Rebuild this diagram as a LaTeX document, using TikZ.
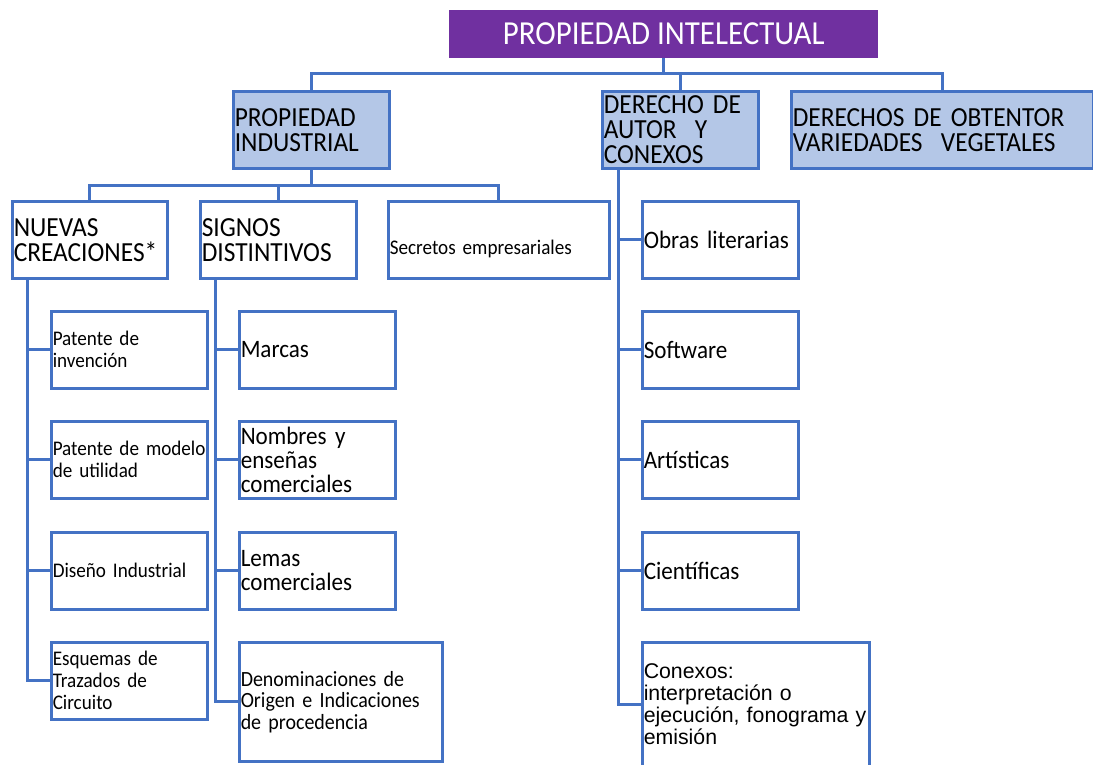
\documentclass[tikz,border=0pt]{standalone}
\usepackage{fontspec}
\setmainfont{Carlito}[FakeStretch=0.92]
\newfontfamily\arialfont{Liberation Sans}
\definecolor{boxblue}{HTML}{4472C4}
\definecolor{hdrfill}{HTML}{B4C7E7}
\definecolor{titlepurple}{HTML}{7030A0}
\newcommand{\txl}[1]{\mbox{#1}}
\begin{document}
\begin{tikzpicture}[x=1pt,y=-1pt,
  conn/.style={draw=boxblue,line width=3pt},
  base/.style={anchor=north west,draw=boxblue,line width=2.5pt,inner xsep=1.5pt,inner ysep=0pt,align=left},
  hdr/.style={base,fill=hdrfill,font=\fontsize{27.6}{25}\selectfont},
  hdrw/.style={base,fill=white,font=\fontsize{27.6}{25}\selectfont},
  small/.style={base,font=\fontsize{20.8}{22}\selectfont},
  mid/.style={base,font=\fontsize{25.1}{24}\selectfont},
  titlebox/.style={anchor=north west,fill=titlepurple,text=white,inner sep=0pt,font=\fontsize{33.6}{31}\selectfont}
]
\useasboundingbox (0,0) rectangle (1093,764);
\fill[white] (0,0) rectangle (1093,764);

% level 0
\node[titlebox,minimum width=429pt,minimum height=48pt] (title) at (449,10) {PROPIEDAD INTELECTUAL};

% level 1
\node[hdr,text width=153pt,minimum height=77pt] (pi) at (232,90) {\txl{PROPIEDAD}\\\txl{INDUSTRIAL}};
\node[hdr,text width=153pt,minimum height=77pt] (da) at (601,90) {\txl{DERECHO DE}\\\txl{AUTOR\ \ Y}\\\txl{CONEXOS}};
\node[hdr,text width=299pt,minimum height=77pt] (dovv) at (790,90) {\txl{DERECHOS DE OBTENTOR}\\\txl{VARIEDADES\ \ VEGETALES}};

% level 2
\node[hdrw,text width=152pt,minimum height=77pt] (nc) at (11,200) {\txl{NUEVAS}\\\txl{CREACIONES*}};
\node[hdrw,text width=153pt,minimum height=77pt] (sd) at (199,200) {\txl{SIGNOS}\\\txl{DISTINTIVOS}};
\node[small,text width=218pt,minimum height=77pt] (sec) at (387,200) {\mbox{}\\[10pt]\txl{Secretos empresariales}};

% nuevas creaciones children
\node[small,text width=153pt,minimum height=77pt] (pat) at (50,310) {\txl{Patente de}\\\txl{invención}};
\node[small,text width=153pt,minimum height=77pt] (pmu) at (50,420) {\txl{Patente de modelo}\\\txl{de utilidad}};
\node[small,text width=153pt,minimum height=77pt] (dis) at (50,531) {\txl{Diseño Industrial}};
\node[small,text width=153pt,minimum height=77pt] (esq) at (50,641) {\txl{Esquemas de}\\\txl{Trazados de}\\\txl{Circuito}};

% signos distintivos children
\node[mid,text width=153pt,minimum height=77pt] (mar) at (238,310) {\txl{Marcas}};
\node[mid,text width=153pt,minimum height=77pt] (nom) at (238,420) {\txl{Nombres y}\\\txl{enseñas}\\\txl{comerciales}};
\node[mid,text width=153pt,minimum height=77pt] (lem) at (238,531) {\txl{Lemas}\\\txl{comerciales}};
\node[small,font=\fontsize{21.7}{21.5}\selectfont,text width=200pt,minimum height=119pt] (den) at (238,641) {\txl{Denominaciones de}\\\txl{Origen e Indicaciones}\\\txl{de procedencia}};

% derecho de autor children
\node[mid,text width=153pt,minimum height=77pt] (obr) at (641,200) {\txl{Obras literarias}};
\node[mid,text width=153pt,minimum height=77pt] (sof) at (641,310) {\txl{Software}};
\node[mid,text width=153pt,minimum height=77pt] (art) at (641,420) {\txl{Artísticas}};
\node[mid,text width=153pt,minimum height=77pt] (cie) at (641,531) {\txl{Científicas}};
\node[base,font=\arialfont\fontsize{21.3}{22}\selectfont,text width=224pt,minimum height=124pt] (con) at (641,641) {\txl{Conexos:}\\\txl{interpretación o}\\\txl{ejecución, fonograma y}\\\txl{emisión}};

% connectors level 0 -> 1
\draw[conn] (title.south) -- ++(0,15) -| (pi.north);
\draw[conn] (title.south) -- ++(0,15) -| (da.north);
\draw[conn] (title.south) -- ++(0,15) -| (dovv.north);

% connectors pi -> level 2
\draw[conn] (pi.south) -- ++(0,16) -| (nc.north);
\draw[conn] (pi.south) -- ++(0,16) -| (sd.north);
\draw[conn] (pi.south) -- ++(0,16) -| (sec.north);

% nuevas creaciones
\foreach \c in {pat,pmu,dis,esq}
  \draw[conn] ([xshift=16pt]nc.south west) |- (\c.west);
% signos distintivos
\foreach \c in {mar,nom,lem,den}
  \draw[conn] ([xshift=16pt]sd.south west) |- (\c.west);
% derecho de autor
\foreach \c in {obr,sof,art,cie,con}
  \draw[conn] ([xshift=17pt]da.south west) |- (\c.west);
\end{tikzpicture}
\end{document}
